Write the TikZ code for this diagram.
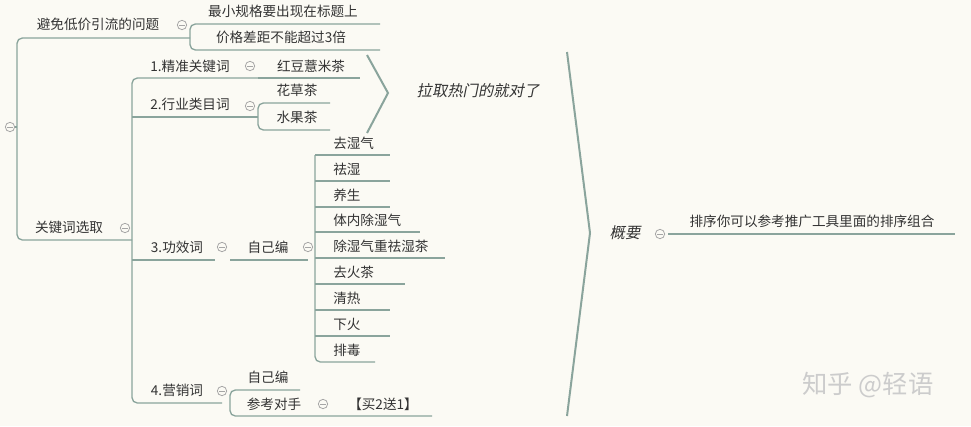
\documentclass[tikz,border=0pt]{standalone}
\usepackage{fontspec}
\setmainfont{Noto Sans CJK SC}
\newfontfamily\slfont[FakeSlant=0.2]{Noto Sans CJK SC}
\begin{document}
\begin{tikzpicture}[x=0.75pt,y=-0.75pt,
  ln/.style={draw=lc,line width=1pt,rounded corners=4pt},
  tx/.style={inner sep=0pt,font=\fontsize{10.2}{12}\selectfont,text=txc},
  txl/.style={tx,anchor=west},
  it/.style={tx,font=\fontsize{11.5}{13}\selectfont\slfont},
  cl/.style={draw=gray!70,line width=0.6pt,circle,minimum size=7pt,inner sep=0pt,
    path picture={\draw[gray!70,line width=0.6pt] ([xshift=-2pt]path picture bounding box.center)--([xshift=2pt]path picture bounding box.center);}}]
\definecolor{lc}{HTML}{8AA49C}
\definecolor{txc}{HTML}{333333}
\fill[fill={rgb,255:red,251;green,250;blue,244}] (0,0) rectangle (971,426);
\useasboundingbox (0,0) rectangle (971,426);
% root
\node[cl] (c0) at (10,127) {};
\draw[ln] (c0.east)--(17,127);
\draw[ln] (132,240)--(17,240)--(17,38)--(190,38);
\node[tx] (a) at (98,24) {避免低价引流的问题};
\node[cl] (ca) at (182,25) {};
\draw[ln] (380,24)--(190,24)--(190,50)--(380,50);
\node[tx] (a1) at (283,11) {最小规格要出现在标题上};
\node[tx] (a2) at (281,37) {价格差距不能超过3倍};
\node[tx] (b) at (69,227) {关键词选取};
\node[cl] (cb) at (125,228) {};
\draw[ln] (258,78)--(132,78)--(132,403)--(222,403);
\draw[ln] (132,117)--(258,117);
\draw[ln] (132,260)--(215,260);
\node[tx] (b1) at (190,66) {1.精准关键词};
\node[cl] (cb1) at (250,66) {};
\draw[ln] (258,78)--(360,78);
\node[tx] (b11) at (311,66) {红豆薏米茶};
\node[tx] (b2) at (190,104) {2.行业类目词};
\node[cl] (cb2) at (250,106) {};
\draw[ln] (330,103)--(258,103)--(258,130)--(330,130);
\node[tx] (b21) at (297,90) {花草茶};
\node[tx] (b22) at (297,117) {水果茶};
\node[tx] (b3) at (177,247) {3.功效词};
\node[cl] (cb3) at (222,247) {};
\draw[ln] (230,260)--(308,260);
\node[tx] (b31) at (268,247) {自己编};
\node[cl] (cb31) at (308,247) {};
\draw[ln] (315,155)--(315,362)--(375,362);
\foreach \t/\y/\e in {去湿气/143/390,祛湿/169/390,养生/195/390,体内除湿气/220/420,除湿气重祛湿茶/246/445,去火茶/272/405,清热/298/390,下火/324/390}{
  \node[txl] at (333,\y) {\t};
  \draw[ln] (315,\y+12)--(\e,\y+12);
}
\node[txl] (b39) at (333,350) {排毒};
\node[tx] (b4) at (177,390) {4.营销词};
\node[cl] (cb4) at (222,391) {};
\draw[ln] (300,390)--(230,390)--(230,416)--(432,416);
\node[tx] (b41) at (268,377) {自己编};
\node[tx] (b42) at (274,404) {参考对手};
\node[cl] (cb42) at (323,404) {};
\node[tx] (b421) at (383,404) {【买2送1】};
% brackets
\draw[draw=lc,line width=1.5pt] (367,55)--(388,93)--(367,133);
\node[it] (s1) at (478,91) {拉取热门的就对了};
\draw[draw=lc,line width=1.5pt] (567,52)--(590,233)--(567,416);
\node[it] (s2) at (625,233) {概要};
\node[cl] (cs2) at (660,234) {};
\draw[ln] (668,234)--(955,234);
\node[tx] (s21) at (812,221) {排序你可以参考推广工具里面的排序组合};
\node[inner sep=0pt,font=\fontsize{19}{22}\selectfont,text=gray!40] (wm) at (868,385) {知乎 @轻语};
\end{tikzpicture}
\end{document}
